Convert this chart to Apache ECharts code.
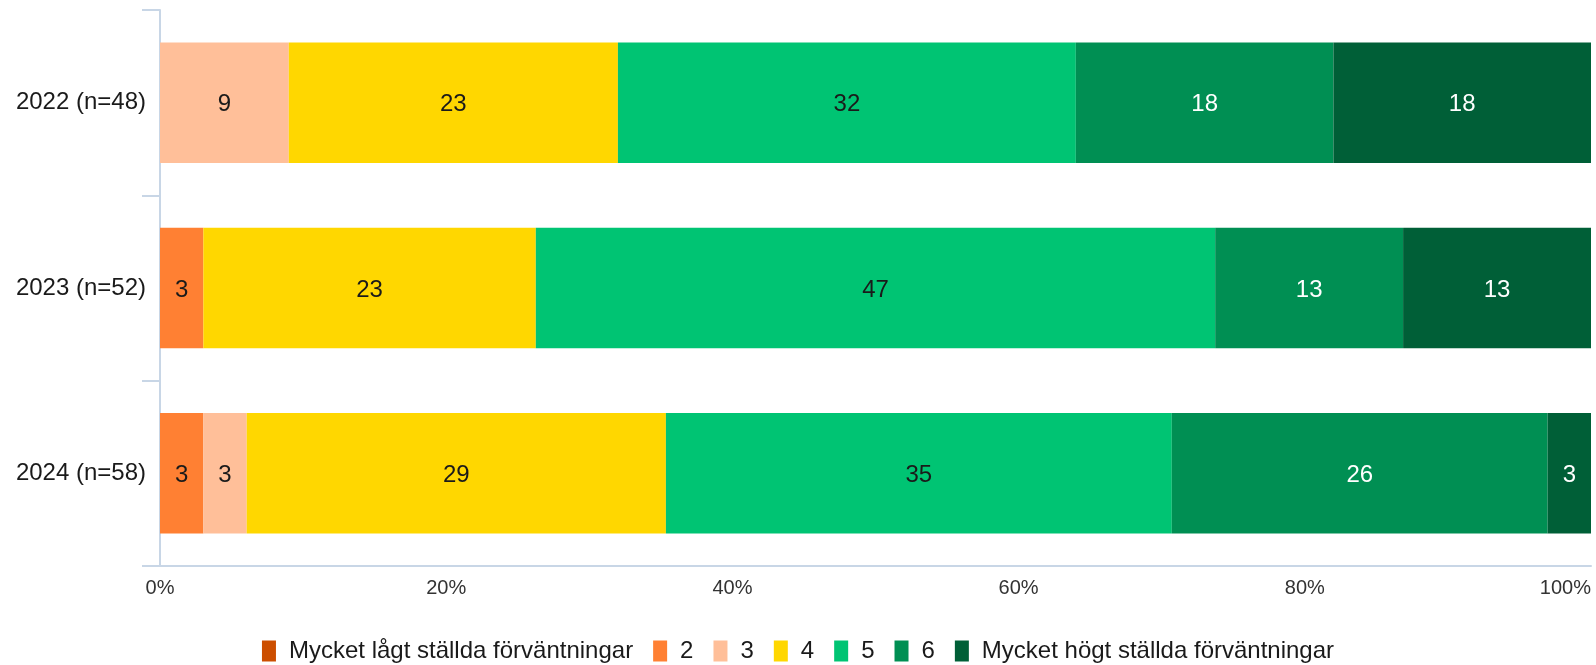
<!DOCTYPE html>
<html>
<head>
<meta charset="utf-8">
<script src="https://cdn.jsdelivr.net/npm/echarts@6/dist/echarts.min.js"></script>
<style>
  html, body { margin: 0; padding: 0; background: #fff; }
  #chart { width: 1596px; height: 665px; }
</style>
</head>
<body>
<div id="chart"></div>
<script>
// kategorier (uppifrån och ned)
var years = ["2022 (n=48)", "2023 (n=52)", "2024 (n=58)"];

// svarsalternativ
var levels = ["Mycket lågt ställda förväntningar", "2", "3", "4", "5", "6", "Mycket högt ställda förväntningar"];
var colors = ["#cc4e00", "#ff8033", "#ffbf99", "#ffd700", "#00c473", "#008f53", "#005f37"];
var labelColors = ["#fff", "#1a1a1a", "#1a1a1a", "#1a1a1a", "#1a1a1a", "#fff", "#fff"];

// andelar i procent, en array per svarsalternativ (2022, 2023, 2024)
var lagt = [0, 0, 0];
var v2 = [0, 3, 3];
var v3 = [9, 0, 3];
var v4 = [23, 23, 29];
var v5 = [32, 47, 35];
var v6 = [18, 13, 26];
var hogt = [18, 13, 3];

var xTicks = [0, 20, 40, 60, 80, 100];

var all = [lagt, v2, v3, v4, v5, v6, hogt];

// radsummor, staplarna fylls ut till 100%
var sums = years.map(function (y, i) {
    var s = 0;
    for (var k = 0; k < all.length; k++) s += all[k][i];
    return s;
});

var series = levels.map(function (name, k) {
    return {
        name: name,
        type: "bar",
        stack: "total",
        barWidth: "65%",
        itemStyle: { color: colors[k] },
        label: {
            show: true,
            position: "inside",
            offset: [0, 2],
            color: labelColors[k],
            fontSize: 24,
            fontFamily: "Liberation Sans",
            formatter: function (p) { return p.data.raw ? String(p.data.raw) : ""; }
        },
        data: all[k].map(function (v, i) {
            return { value: v ? v / sums[i] * 100 : null, raw: v };
        })
    };
});

var chart = echarts.init(document.getElementById("chart"));
chart.setOption({
    animation: false,
    textStyle: { fontFamily: "Liberation Sans" },
    grid: { left: 160, right: 5, top: 10, bottom: 99 },
    legend: {
        top: 634,
        left: "center",
        icon: "rect",
        itemWidth: 14,
        itemHeight: 21,
        itemGap: 20,
        textStyle: { fontSize: 24, color: "#1a1a1a", fontFamily: "Liberation Sans", padding: [0, 0, 0, 8] },
        data: levels
    },
    xAxis: {
        type: "value",
        min: xTicks[0],
        max: xTicks[xTicks.length - 1],
        interval: 20,
        splitLine: { show: false },
        axisLine: { show: true, lineStyle: { color: "#c8d6e6", width: 2 } },
        axisTick: { show: false },
        axisLabel: {
            fontSize: 20,
            color: "#333",
            margin: 12,
            alignMaxLabel: "right",
            formatter: "{value}%"
        }
    },
    yAxis: {
        type: "category",
        inverse: true,
        data: years,
        axisLine: { show: true, lineStyle: { color: "#c8d6e6", width: 2 } },
        axisTick: { show: true, length: 18, lineStyle: { color: "#c8d6e6", width: 2 } },
        axisLabel: { fontSize: 24, color: "#1a1a1a", margin: 14, padding: [4, 0, 0, 0] }
    },
    series: series
});
</script>
</body>
</html>
